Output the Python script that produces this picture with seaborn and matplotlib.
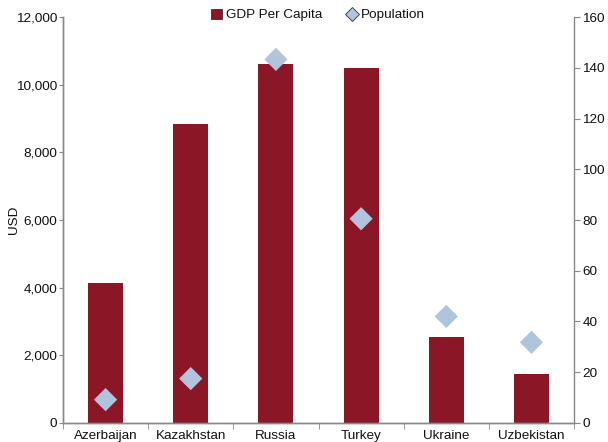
import matplotlib
matplotlib.use("Agg")
import matplotlib.pyplot as plt
import seaborn as sns
import pandas as pd
from matplotlib.ticker import FuncFormatter, MultipleLocator
from matplotlib.lines import Line2D
from matplotlib.patches import Patch

countries = ["Azerbaijan", "Kazakhstan", "Russia", "Turkey", "Ukraine", "Uzbekistan"]
gdp_per_capita = [4150, 8850, 10600, 10500, 2550, 1450]
population = [9.2, 17.5, 143.3, 80.5, 42.0, 31.8]

sns.set_style("white")
plt.rcParams['font.family'] = ['Liberation Sans', 'DejaVu Sans']
plt.rcParams['text.color'] = '#111111'
plt.rcParams['xtick.color'] = '#111111'
plt.rcParams['ytick.color'] = '#111111'
plt.rcParams['axes.labelcolor'] = '#111111'

bar_color = "#8B1726"
dia_color = "#B0C4DE"
axis_color = "#888888"
fs = 9.7

df = pd.DataFrame({"country": countries, "gdp": gdp_per_capita, "pop": population})

fig = plt.figure(figsize=(6.08, 4.42), dpi=100)
ax = fig.add_axes([0.1036, 0.043, 0.8405, 0.9185])
sns.barplot(data=df, x="country", y="gdp", color=bar_color, saturation=1, width=0.41,
            linewidth=0, ax=ax)
ax.set_ylim(0, 12000)
ax.set_xlim(-0.5, 5.5)
ax.yaxis.set_major_locator(MultipleLocator(2000))
ax.yaxis.set_major_formatter(FuncFormatter(lambda v, p: f"{int(v):,}"))
ax.set_ylabel("USD", fontsize=fs)
ax.yaxis.set_label_coords(-0.085, 0.5)
ax.set_xlabel("")
ax.set_xticks(range(len(countries)))
ax.set_xticklabels(countries, fontsize=fs)
ax.tick_params(axis="x", length=0, pad=5)
ax.set_xticks([i - 0.5 for i in range(len(countries) + 1)], minor=True)
ax.tick_params(axis="x", which="minor", length=4, color=axis_color, direction="out", bottom=True)
ax.tick_params(axis="y", length=3, color=axis_color, labelsize=fs, left=True, direction="out", pad=1)

ax2 = ax.twinx()
sns.scatterplot(x=list(range(len(countries))), y=population, marker="D", s=140,
                color=dia_color, edgecolor="none", ax=ax2, zorder=5)
ax2.set_ylim(0, 160)
ax2.set_xlim(-0.5, 5.5)
ax2.yaxis.set_major_locator(MultipleLocator(20))
ax2.tick_params(axis="y", length=4, color=axis_color, labelsize=fs, right=True, direction="out", pad=2)

for a in (ax, ax2):
    a.spines["top"].set_visible(False)
    for s in ("left", "right", "bottom"):
        a.spines[s].set_color(axis_color)
        a.spines[s].set_linewidth(1)
ax.spines["right"].set_visible(False)

handles = [Patch(facecolor=bar_color, edgecolor="#333333", linewidth=0.6, label="GDP Per Capita"),
           Line2D([], [], marker="D", linestyle="none", markersize=7, markerfacecolor=dia_color,
                  markeredgecolor="#333333", markeredgewidth=0.6, label="Population")]
fig.legend(handles=handles, loc="center", bbox_to_anchor=(0.523, 0.966), ncol=2, frameon=False,
           fontsize=fs, handlelength=0.8, handletextpad=0.3, columnspacing=1.8, handleheight=0.8)

fig.savefig("out.png", dpi=100)
